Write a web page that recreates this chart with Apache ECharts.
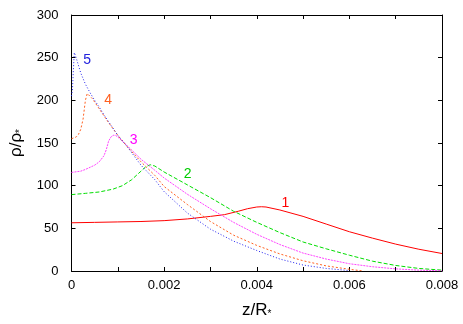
<!DOCTYPE html>
<html>
<head>
<meta charset="utf-8">
<script src="https://cdn.jsdelivr.net/npm/echarts@6/dist/echarts.min.js"></script>
<style>
  html, body { margin: 0; padding: 0; background: #fff; }
  #chart { width: 463px; height: 324px; }
</style>
</head>
<body>
<div id="chart"></div>
<script>
// curve data: [z/R*, rho/rho*]
var curve1 = [[0,56.5],[0.0005,57],[0.001,57.5],[0.0015,58],[0.002,59],[0.0025,61],[0.003,64],[0.0033,66],[0.0036,70],[0.0038,73],[0.004,75],[0.0041,75.3],[0.0042,75],[0.0045,71.5],[0.005,64],[0.0055,55],[0.006,46],[0.0065,38.5],[0.007,31.5],[0.0075,25.5],[0.008,20.5]];
var curve2 = [[0,89.5],[0.0003,91],[0.0006,92.6],[0.0009,96],[0.0011,100],[0.0013,107],[0.0015,117],[0.0016,122],[0.0017,124.5],[0.0018,123],[0.002,116],[0.0025,101],[0.003,86],[0.0035,70],[0.004,57],[0.0045,45],[0.005,34],[0.0055,26],[0.006,18.5],[0.0065,11.5],[0.007,6.5],[0.0075,3],[0.008,1]];
var curve3 = [[0,115.5],[0.0002,117],[0.0003,119],[0.0005,124],[0.0006,128],[0.0007,135],[0.00075,142],[0.0008,152],[0.00085,157],[0.0009,159],[0.00095,159],[0.001,157],[0.0012,147],[0.0015,131],[0.0018,118],[0.002,109],[0.0025,90],[0.003,73],[0.0035,57],[0.004,43],[0.0045,31],[0.005,21],[0.0055,14],[0.006,8.5],[0.0065,5],[0.007,2.5],[0.0075,1],[0.008,0.3]];
var curve4 = [[0,155],[0.0001,157],[0.00015,160],[0.0002,166],[0.00025,178],[0.0003,200],[0.00034,208],[0.00045,202],[0.0006,190],[0.0007,182],[0.0008,174],[0.001,159],[0.0012,146],[0.0015,128],[0.0018,112],[0.002,99],[0.0025,78],[0.003,58],[0.0035,42],[0.004,30],[0.0045,20],[0.005,12],[0.0055,6],[0.006,2],[0.0063,0]];
var curve5 = [[0,205],[0.00002,212],[0.00004,235],[0.00006,256],[0.0001,250],[0.0002,232],[0.0003,219],[0.0004,209],[0.0005,200],[0.0006,192],[0.0007,183],[0.0008,175],[0.001,159],[0.0012,146],[0.0015,124],[0.0018,107],[0.002,93],[0.0025,68],[0.003,49],[0.0035,35],[0.004,24],[0.0045,14],[0.005,7],[0.0055,3],[0.006,0.5]];

var curveNames = ['1', '2', '3', '4', '5'];
// where each curve number is written, in data coordinates
var labelAt = [[0.00462,80],[0.00251,113],[0.00134,153],[0.00079,200],[0.00034,247]];

var xTicks = [0, 0.002, 0.004, 0.006, 0.008];

var myChart = echarts.init(document.getElementById('chart'));

var colors = ['#ff0000', '#00dd00', '#ff44ff', '#ff6020', '#2222ee'];
var textColors = ['#ff0000', '#00cc00', '#ff00ff', '#ff6020', '#2222dd'];
var dashes = ['solid', [4, 2], [2, 1], [2, 2], [1, 2]];
var curves = [curve1, curve2, curve3, curve4, curve5];

var font = 'Liberation Sans, Arial, sans-serif';

var series = curves.map(function (d, i) {
    return {
        name: curveNames[i],
        type: 'line',
        data: d,
        showSymbol: false,
        smooth: false,
        lineStyle: { color: colors[i], width: 1, type: dashes[i] },
        markPoint: {
            symbol: 'circle',
            symbolSize: 0,
            label: {
                show: true,
                position: 'inside',
                formatter: curveNames[i],
                color: textColors[i],
                fontSize: 14,
                fontFamily: font
            },
            data: [{ coord: labelAt[i] }]
        }
    };
});

var axisLineStyle = { show: true, onZero: false, lineStyle: { color: '#000', width: 1 } };
var tickStyle = { inside: true, length: 4, lineStyle: { color: '#000' } };

var option = {
    animation: false,
    grid: { left: 66, right: 21, top: 15, bottom: 39 },
    xAxis: [{
        type: 'value',
        min: 0, max: 0.008, interval: 0.002,
        axisLine: axisLineStyle,
        axisTick: tickStyle,
        minorTick: { show: true, splitNumber: 2, length: 4, lineStyle: { color: '#000' } },
        splitLine: { show: false },
        axisLabel: {
            color: '#000', fontSize: 13, fontFamily: font, margin: 8,
            formatter: function (v) {
                var best = xTicks.reduce(function (a, b) { return Math.abs(b - v) < Math.abs(a - v) ? b : a; });
                return best === 0 ? '0' : best.toFixed(3);
            }
        },
        name: 'z/R{s|*}',
        nameLocation: 'middle',
        nameGap: 30,
        nameTextStyle: {
            color: '#000', fontSize: 17, fontFamily: font,
            rich: { s: { fontSize: 10, color: '#000', fontFamily: font, verticalAlign: 'bottom', padding: [8, 0, 0, 0] } }
        }
    }, {
        type: 'value', position: 'top',
        min: 0, max: 0.008, interval: 0.002,
        axisLine: axisLineStyle,
        axisTick: tickStyle,
        minorTick: { show: true, splitNumber: 2, length: 4, lineStyle: { color: '#000' } },
        splitLine: { show: false },
        axisLabel: { show: false }
    }],
    yAxis: [{
        type: 'value',
        min: 0, max: 300, interval: 50,
        axisLine: axisLineStyle,
        axisTick: tickStyle,
        splitLine: { show: false },
        axisLabel: { color: '#000', fontSize: 13, fontFamily: font, margin: 13 },
        name: 'ρ/ρ{s|*}',
        nameLocation: 'middle',
        nameGap: 46,
        nameTextStyle: {
            color: '#000', fontSize: 17, fontFamily: font,
            rich: { s: { fontSize: 10, color: '#000', fontFamily: font, verticalAlign: 'bottom', padding: [8, 0, 0, 0] } }
        }
    }, {
        type: 'value', position: 'right',
        min: 0, max: 300, interval: 50,
        axisLine: axisLineStyle,
        axisTick: tickStyle,
        splitLine: { show: false },
        axisLabel: { show: false }
    }],
    series: series
};

myChart.setOption(option);
</script>
</body>
</html>
